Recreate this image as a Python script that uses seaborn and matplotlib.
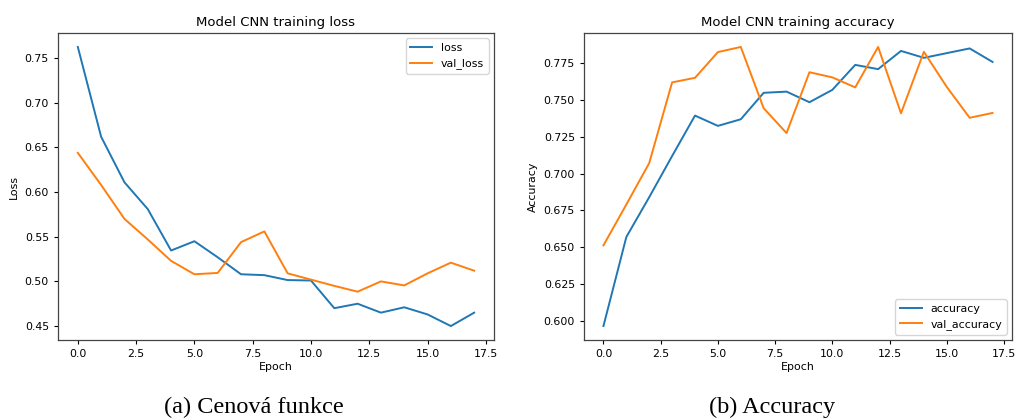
import numpy as np
import pandas as pd
import matplotlib
matplotlib.use("Agg")
import matplotlib.pyplot as plt
import seaborn as sns

epochs = list(range(18))
loss = [0.7626, 0.662, 0.611, 0.581, 0.5346, 0.545, 0.527, 0.508, 0.507, 0.5015,
        0.501, 0.470, 0.475, 0.465, 0.471, 0.463, 0.450, 0.465]
val_loss = [0.644, 0.608, 0.570, 0.547, 0.523, 0.508, 0.5095, 0.544, 0.556, 0.509,
            0.502, 0.495, 0.4885, 0.500, 0.4955, 0.509, 0.521, 0.512]
accuracy = [0.5963, 0.6569, 0.684, 0.712, 0.7395, 0.7325, 0.737, 0.755, 0.7558, 0.7486,
            0.757, 0.774, 0.7711, 0.7835, 0.7788, 0.782, 0.7852, 0.776]
val_accuracy = [0.6512, 0.679, 0.7072, 0.7621, 0.7652, 0.7827, 0.7862, 0.7445, 0.7276, 0.769,
                0.7655, 0.7587, 0.7862, 0.7411, 0.7829, 0.759, 0.738, 0.7413]

titles = ["Model CNN training loss", "Model CNN training accuracy"]
ylabels = ["Loss", "Accuracy"]
captions = ["(a) Cenová funkce", "(b) Accuracy"]

plt.rcParams["font.family"] = ["DejaVu Sans"]
fs = 7.9
plt.rcParams.update({
    "xtick.labelsize": fs, "ytick.labelsize": fs,
    "axes.labelsize": fs, "legend.fontsize": fs,
    "axes.titlesize": 9.5,
    "xtick.major.size": 3.0, "ytick.major.size": 3.0,
    "axes.linewidth": 0.9,
    "axes.edgecolor": "#444444",
})

fig = plt.figure(figsize=(10.16, 4.19), dpi=100)
ax1 = fig.add_axes([58/1016, 79/419, 436/1016, 307/419])
ax2 = fig.add_axes([584/1016, 79/419, 428/1016, 307/419])

c1, c2 = "#1f77b4", "#ff7f0e"
lw = 1.4

sns.lineplot(x=epochs, y=loss, ax=ax1, color=c1, label="loss", linewidth=lw)
sns.lineplot(x=epochs, y=val_loss, ax=ax1, color=c2, label="val_loss", linewidth=lw)
sns.lineplot(x=epochs, y=accuracy, ax=ax2, color=c1, label="accuracy", linewidth=lw)
sns.lineplot(x=epochs, y=val_accuracy, ax=ax2, color=c2, label="val_accuracy", linewidth=lw)

for ax, t, yl in zip([ax1, ax2], titles, ylabels):
    ax.set_title(t, pad=5)
    ax.set_xlabel("Epoch", labelpad=2)
    ax.set_ylabel(yl, labelpad=4)
    ax.set_xticks(np.arange(0, 17.6, 2.5))

ax1.legend(loc="upper right")
ax2.legend(loc="lower right")

fig.text(254/1016, 1 - 407/419, captions[0], ha="center", va="center",
         fontsize=17.5, family=["Liberation Serif"])
fig.text(772/1016, 1 - 407/419, captions[1], ha="center", va="center",
         fontsize=17.5, family=["Liberation Serif"])

fig.savefig("out.png", dpi=100)
